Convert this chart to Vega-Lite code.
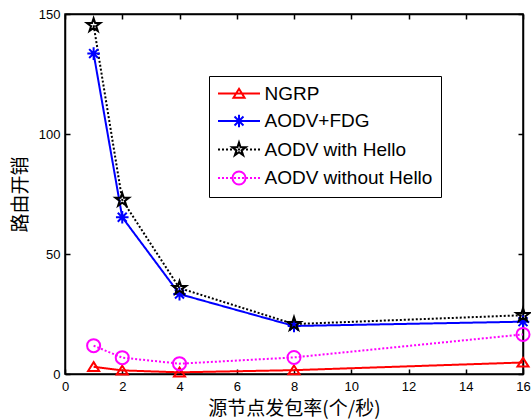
{
  "$schema": "https://vega.github.io/schema/vega-lite/v6.json",
  "width": 458,
  "height": 360,
  "autosize": "none",
  "padding": {"left": 65, "top": 14, "right": 8, "bottom": 46},
  "background": "white",
  "config": {
    "view": {"stroke": "black", "strokeWidth": 1.5},
    "axis": {
      "grid": false,
      "domainColor": "black",
      "domainWidth": 1.5,
      "tickColor": "black",
      "tickWidth": 1.5,
      "tickSize": -5,
      "labelFlush": false,
      "labelFont": "Liberation Sans",
      "labelFontSize": 13,
      "labelColor": "black",
      "titleFont": "Noto Sans CJK SC",
      "titleFontSize": 19,
      "titleFontWeight": "normal",
      "titleColor": "black"
    }
  },
  "data": {
    "values": [
      {"rate": 1, "series": "NGRP", "value": 3.0},
      {"rate": 2, "series": "NGRP", "value": 1.5},
      {"rate": 4, "series": "NGRP", "value": 0.7},
      {"rate": 8, "series": "NGRP", "value": 1.6},
      {"rate": 16, "series": "NGRP", "value": 4.8},
      {"rate": 1, "series": "AODV+FDG", "value": 133.5},
      {"rate": 2, "series": "AODV+FDG", "value": 65.3},
      {"rate": 4, "series": "AODV+FDG", "value": 33.3},
      {"rate": 8, "series": "AODV+FDG", "value": 20.0},
      {"rate": 16, "series": "AODV+FDG", "value": 21.8},
      {"rate": 1, "series": "AODV with Hello", "value": 145.3},
      {"rate": 2, "series": "AODV with Hello", "value": 72.5},
      {"rate": 4, "series": "AODV with Hello", "value": 35.8},
      {"rate": 8, "series": "AODV with Hello", "value": 20.8},
      {"rate": 16, "series": "AODV with Hello", "value": 24.5},
      {"rate": 1, "series": "AODV without Hello", "value": 11.8},
      {"rate": 2, "series": "AODV without Hello", "value": 6.8},
      {"rate": 4, "series": "AODV without Hello", "value": 4.3},
      {"rate": 8, "series": "AODV without Hello", "value": 6.9},
      {"rate": 16, "series": "AODV without Hello", "value": 16.5}
    ]
  },
  "layer": [
    {
      "mark": {"type": "line", "strokeWidth": 2},
      "encoding": {
        "x": {"field": "rate", "type": "quantitative", "scale": {"domain": [0, 16], "nice": false},
              "axis": {"values": [0, 2, 4, 6, 8, 10, 12, 14, 16], "title": "源节点发包率(个/秒)", "labelPadding": 11, "titlePadding": 6}},
        "y": {"field": "value", "type": "quantitative", "scale": {"domain": [0, 150], "nice": false},
              "axis": {"values": [0, 50, 100, 150], "title": "路由开销", "labelPadding": 10, "titlePadding": 8}},
        "color": {"field": "series", "type": "nominal",
                  "scale": {"domain": ["NGRP", "AODV+FDG", "AODV with Hello", "AODV without Hello"], "range": ["#ff0000", "#0000ff", "#000000", "#ff00ff"]},
                  "legend": null},
        "strokeDash": {"field": "series", "type": "nominal",
                  "scale": {"domain": ["NGRP", "AODV+FDG", "AODV with Hello", "AODV without Hello"], "range": [[1, 0], [1, 0], [2, 2], [2, 2]]},
                  "legend": null}
      }
    },
    {
      "mark": {"type": "point", "filled": false, "strokeWidth": 2, "size": 196, "opacity": 1},
      "encoding": {
        "x": {"field": "rate", "type": "quantitative",
              "axis": {"orient": "top", "values": [0, 2, 4, 6, 8, 10, 12, 14, 16], "labels": false, "title": null}},
        "y": {"field": "value", "type": "quantitative",
              "axis": {"orient": "right", "values": [0, 50, 100, 150], "labels": false, "title": null}},
        "color": {"field": "series", "type": "nominal",
                  "scale": {"domain": ["NGRP", "AODV+FDG", "AODV with Hello", "AODV without Hello"], "range": ["#ff0000", "#0000ff", "#000000", "#ff00ff"]},
                  "legend": null},
        "shape": {"field": "series", "type": "nominal",
                  "scale": {"domain": ["NGRP", "AODV+FDG", "AODV with Hello", "AODV without Hello"],
                            "range": [
                              "M0,-0.67L0.79,0.59L-0.79,0.59Z",
                              "M-0.9,0L0.9,0M0,-0.9L0,0.9M-0.64,-0.64L0.64,0.64M-0.64,0.64L0.64,-0.64",
                              "M0,-1L0.2245,-0.309L0.951,-0.309L0.363,0.118L0.588,0.809L0,0.382L-0.588,0.809L-0.363,0.118L-0.951,-0.309L-0.2245,-0.309Z",
                              "M0.93,0A0.93,0.93 0 1,1 -0.93,0A0.93,0.93 0 1,1 0.93,0Z"
                            ]},
                  "legend": null}
      }
    },
    {
      "mark": {"type": "point", "filled": false, "strokeWidth": 2, "size": 196, "opacity": 0},
      "encoding": {
        "x": {"field": "rate", "type": "quantitative", "axis": null},
        "y": {"field": "value", "type": "quantitative", "axis": null},
        "color": {"field": "series", "type": "nominal",
                  "scale": {"domain": ["NGRP", "AODV+FDG", "AODV with Hello", "AODV without Hello"], "range": ["#ff0000", "#0000ff", "#000000", "#ff00ff"]},
                  "legend": {"orient": "none", "legendX": 144, "legendY": 62, "title": null, "padding": 8, "rowPadding": 6.5, "symbolOffset": 12.5, "labelOffset": 16, "labelFont": "Liberation Sans", "labelFontSize": 19, "labelColor": "black", "labelLimit": 400, "symbolSize": 196, "symbolStrokeWidth": 2, "symbolOpacity": 1, "strokeColor": "black", "fillColor": "white"}},
        "shape": {"field": "series", "type": "nominal",
                  "scale": {"domain": ["NGRP", "AODV+FDG", "AODV with Hello", "AODV without Hello"],
                            "range": [
                              "M-3,0L3,0M0,-0.67L0.79,0.59L-0.79,0.59Z",
                              "M-3,0L3,0M-0.9,0L0.9,0M0,-0.9L0,0.9M-0.64,-0.64L0.64,0.64M-0.64,0.64L0.64,-0.64",
                              "M-3,0L-2.71,0M-2.43,0L-2.14,0M-1.86,0L-1.57,0M-1.29,0L-1,0M-0.71,0L-0.43,0M-0.14,0L0.14,0M0.43,0L0.71,0M1,0L1.29,0M1.57,0L1.86,0M2.14,0L2.43,0M2.71,0L3,0M0,-1L0.2245,-0.309L0.951,-0.309L0.363,0.118L0.588,0.809L0,0.382L-0.588,0.809L-0.363,0.118L-0.951,-0.309L-0.2245,-0.309Z",
                              "M-3,0L-2.71,0M-2.43,0L-2.14,0M-1.86,0L-1.57,0M-1.29,0L-1,0M-0.71,0L-0.43,0M-0.14,0L0.14,0M0.43,0L0.71,0M1,0L1.29,0M1.57,0L1.86,0M2.14,0L2.43,0M2.71,0L3,0M0.93,0A0.93,0.93 0 1,1 -0.93,0A0.93,0.93 0 1,1 0.93,0Z"
                            ]},
                  "legend": {"orient": "none", "legendX": 144, "legendY": 62, "title": null, "padding": 8, "rowPadding": 6.5, "symbolOffset": 12.5, "labelOffset": 16, "labelFont": "Liberation Sans", "labelFontSize": 19, "labelColor": "black", "labelLimit": 400, "symbolSize": 196, "symbolStrokeWidth": 2, "symbolOpacity": 1, "strokeColor": "black", "fillColor": "white"}}
      }
    }
  ],
  "resolve": {
    "scale": {"color": "independent", "shape": "independent"},
    "axis": {"x": "independent", "y": "independent"}
  }
}
